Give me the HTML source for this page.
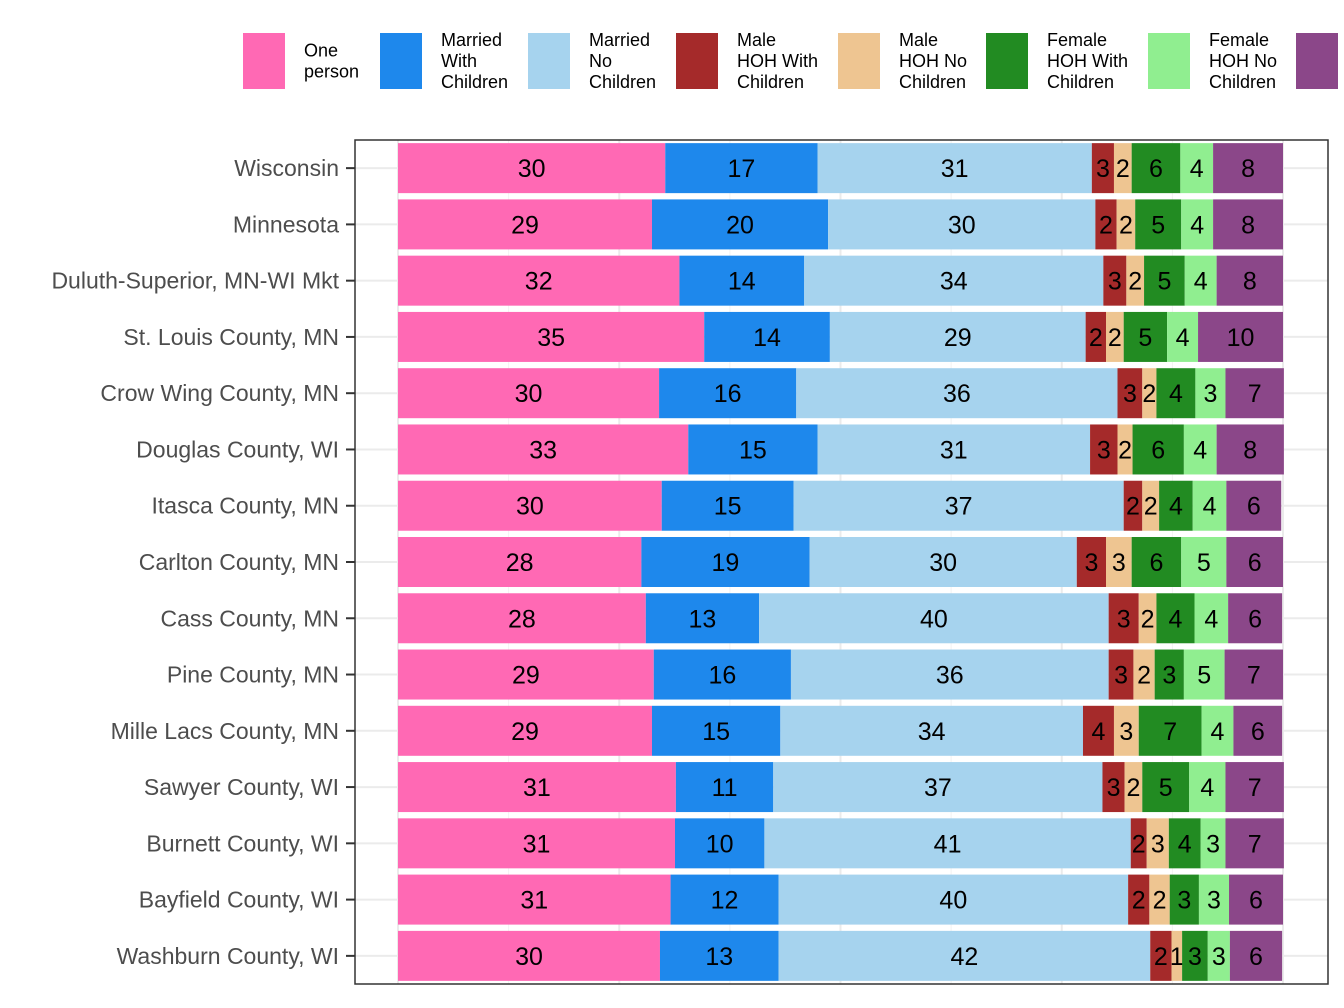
<!DOCTYPE html>
<html><head><meta charset="utf-8"><style>
body{margin:0;background:#fff;}
svg{display:block;font-family:"Liberation Sans",Arial,sans-serif;}
</style></head><body>
<svg id="chart" width="1344" height="1008" viewBox="0 0 1344 1008" xmlns="http://www.w3.org/2000/svg"></svg>
<script>
const categories = ["Wisconsin","Minnesota","Duluth-Superior, MN-WI Mkt","St. Louis County, MN","Crow Wing County, MN","Douglas County, WI","Itasca County, MN","Carlton County, MN","Cass County, MN","Pine County, MN","Mille Lacs County, MN","Sawyer County, WI","Burnett County, WI","Bayfield County, WI","Washburn County, WI"];
const seriesNames = ["One person","Married With Children","Married No Children","Male HOH With Children","Male HOH No Children","Female HOH With Children","Female HOH No Children","Other"];
const onePerson = [30.2,28.7,31.8,34.6,29.5,32.8,29.8,27.5,28.0,28.9,28.7,31.4,31.3,30.8,29.6];
const marriedWithChildren = [17.2,19.9,14.1,14.2,15.5,14.6,14.9,19.0,12.8,15.5,14.5,11.0,10.1,12.2,13.4];
const marriedNoChildren = [31.0,30.2,33.8,28.9,36.3,30.8,37.3,30.2,39.5,35.9,34.2,37.2,41.4,39.5,42.0];
const maleWithChildren = [2.5,2.4,2.6,2.3,2.8,3.1,2.1,3.3,3.4,2.8,3.5,2.5,1.8,2.4,2.4];
const maleNoChildren = [2.0,2.1,2.0,2.0,1.6,1.7,1.9,2.9,2.0,2.4,2.8,2.0,2.5,2.3,1.2];
const femaleWithChildren = [5.5,5.2,4.6,4.9,4.4,5.8,3.8,5.6,4.3,3.3,7.1,5.3,3.6,3.3,2.9];
const femaleNoChildren = [3.7,3.6,3.6,3.5,3.4,3.7,3.8,5.1,3.8,4.6,3.6,4.1,2.8,3.4,2.5];
const other = [7.9,7.9,7.5,9.6,6.6,7.6,6.2,6.4,6.1,6.6,5.5,6.6,6.6,6.1,5.9];
const series = [onePerson,marriedWithChildren,marriedNoChildren,maleWithChildren,maleNoChildren,femaleWithChildren,femaleNoChildren,other];
const colors = ["#FF69B4","#1E88EC","#A6D3EE","#A52A2A","#EEC591","#228B22","#90EE90","#8B4789"];
const legendLines = [["One","person"],["Married","With","Children"],["Married","No","Children"],["Male","HOH With","Children"],["Male","HOH No","Children"],["Female","HOH With","Children"],["Female","HOH No","Children"],["Other"]];

const NS="http://www.w3.org/2000/svg";
const svg=document.getElementById('chart');
function mk(tag,attrs,parent){const e=document.createElementNS(NS,tag);for(const k in attrs)e.setAttribute(k,attrs[k]);(parent||svg).appendChild(e);return e;}
const px0=355,px1=1328,py0=140,py1=984;
const x0=398,x1=1283;
function xs(v){return x0+(x1-x0)*v/100;}
const step=(py1-py0)/categories.length;
function ys(i){return py0+step*(i+0.5);}
const barH=50;

// panel background gridlines
const grid=mk('g',{});


[12.5,37.5,62.5,87.5].forEach(v=>{const l=mk('line',{x1:xs(v),x2:xs(v),y1:py0,y2:py1,stroke:'#F2F2F2','stroke-width':1},grid);});
[0,25,50,75,100].forEach(v=>{const l=mk('line',{x1:xs(v),x2:xs(v),y1:py0,y2:py1,stroke:'#EBEBEB','stroke-width':2},grid);});
categories.forEach((c,i)=>{const l=mk('line',{x1:px0,x2:px1,y1:ys(i),y2:ys(i),stroke:'#EBEBEB','stroke-width':2},grid);});

// bars
const bars=mk('g',{});


categories.forEach((c,i)=>{
  let cum=0;
  series.forEach((s,k)=>{
    const v=s[i];
    const r=mk('rect',{x:xs(cum),y:ys(i)-barH/2,width:xs(cum+v)-xs(cum),height:barH,fill:colors[k]},bars);
    
    
    const t=mk('text',{x:(xs(cum)+xs(cum+v))/2,y:ys(i)+9,'font-size':25,'text-anchor':'middle',fill:'#000'},bars);
    
    
    t.textContent=Math.round(v);
    cum+=v;
  });
});

// panel border
const border=mk('rect',{x:px0,y:py0,width:px1-px0,height:py1-py0,fill:'none',stroke:'#333','stroke-width':1.5});



// y axis
const yaxis=mk('g',{});


categories.forEach((c,i)=>{
  const tk=mk('line',{x1:346,x2:px0,y1:ys(i),y2:ys(i),stroke:'#333','stroke-width':2},yaxis);
  
  
  const t=mk('text',{x:339,y:ys(i)+8,'font-size':23,'text-anchor':'end',fill:'#4D4D4D'},yaxis);
  
  
  t.textContent=c;
});

// legend
const leg=mk('g',{});


const keyX=[243,380,528,676,838,986,1148,1296];
legendLines.forEach((lines,k)=>{
  const r=mk('rect',{x:keyX[k],y:33,width:42,height:56,fill:colors[k]},leg);
  
  
  const n=lines.length;
  const startY=61-(n-1)*10.5+6;
  lines.forEach((ln,j)=>{
    const t=mk('text',{x:keyX[k]+61,y:startY+j*21,'font-size':18,fill:'#000'},leg);
    
    
    t.textContent=ln;
  });
});
</script>
</body></html>
